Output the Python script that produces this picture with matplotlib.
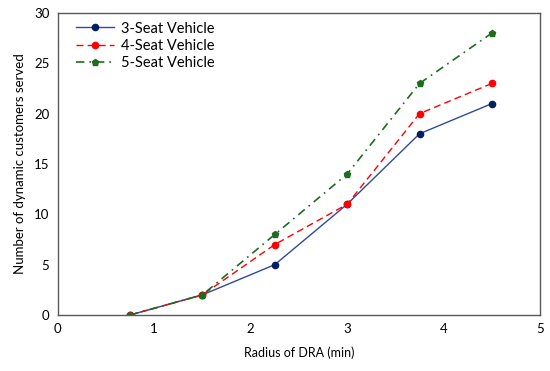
import matplotlib
matplotlib.use("Agg")
import matplotlib.pyplot as plt

plt.rcParams['font.family'] = ['Lato', 'DejaVu Sans']

radius = [0.75, 1.5, 2.25, 3.0, 3.75, 4.5]
seat3 = [0, 2, 5, 11, 18, 21]
seat4 = [0, 2, 7, 11, 20, 23]
seat5 = [0, 2, 8, 14, 23, 28]

fig = plt.figure(figsize=(5.5, 3.71), dpi=100)
ax = fig.add_axes([0.105, 0.151, 0.877, 0.814])

ax.plot(radius, seat3, color='#2E4A9A', lw=1.0, marker='o', ms=4.5,
        mfc='#002060', mec='#002060', label='3-Seat Vehicle')
ax.plot(radius, seat4, color='#FF0000', lw=1.0, ls=(0, (5, 3)), marker='o', ms=4.5,
        mfc='#FF0000', mec='#FF0000', label='4-Seat Vehicle')
ax.plot(radius, seat5, color='#1F6B1F', lw=1.2, ls=(0, (5, 3, 1, 3)), marker='p', ms=4.5,
        mfc='#1F6B1F', mec='#1F6B1F', label='5-Seat Vehicle')

ax.set_xlim(0, 5)
ax.set_ylim(0, 30)
ax.set_xticks([0, 1, 2, 3, 4, 5])
ax.set_yticks([0, 5, 10, 15, 20, 25, 30])
ax.tick_params(length=0, labelsize=9.5, pad=6)
for s in ax.spines.values():
    s.set_color('#595959')
    s.set_linewidth(1.0)

ax.set_xlabel('Radius of DRA (min)', fontsize=9, labelpad=8)
ax.set_ylabel('Number of dynamic customers served', fontsize=9.5, labelpad=6)

ax.legend(loc='upper left', frameon=False, fontsize=10.5, handlelength=2.6,
          bbox_to_anchor=(0.01, 1.015), labelspacing=0.22, handletextpad=0.5)

fig.savefig('out.png', dpi=100)
